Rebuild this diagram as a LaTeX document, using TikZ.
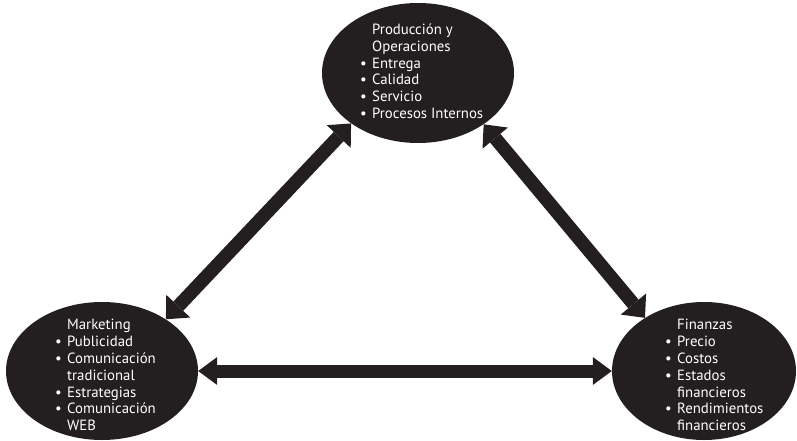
\documentclass[tikz,border=0pt]{standalone}
\usepackage{fontspec}
\setmainfont{PT Sans}
\usetikzlibrary{shapes.geometric,arrows.meta}
\definecolor{ink}{HTML}{231F20}
\tikzset{
  blob/.style={ellipse,fill=ink,draw=none,inner sep=0pt},
  txt/.style={text=white,inner sep=0pt,anchor=north west,font=\fontsize{14.8}{16.8}\selectfont},
  bigarrow/.style={draw=ink,line width=13pt,
    {Triangle[width=28pt,length=19pt,line width=0pt]}-{Triangle[width=28pt,length=19pt,line width=0pt]}},
  diagarrow/.style={draw=ink,line width=13.5pt,
    {Triangle[width=33pt,length=18pt,line width=0pt]}-{Triangle[width=33pt,length=18pt,line width=0pt]}}
}
\newcommand{\bl}{\makebox[12pt][l]{\textbullet}}
\begin{document}
\begin{tikzpicture}[x=1pt,y=-1pt]
\useasboundingbox (0,0) rectangle (797,441);
\node[blob,minimum width=192pt,minimum height=140pt] (pr) at (418,73) {};
\node[blob,minimum width=192pt,minimum height=138pt] (ml) at (102,371) {};
\node[blob,minimum width=184pt,minimum height=138pt] (fi) at (704,371) {};
\node[txt] (prt) at (360,22.5) {\begin{tabular}{@{}l@{}l@{}}
 & Producción y\\
 & Operaciones\\
\bl & Entrega\\
\bl & Calidad\\
\bl & Servicio\\
\bl & Procesos Internos
\end{tabular}};
\node[txt] (mlt) at (55,318) {\begin{tabular}{@{}l@{}l@{}}
 & Marketing\\
\bl & Publicidad\\
\bl & Comunicación\\
 & tradicional\\
\bl & Estrategias\\
\bl & Comunicación\\
 & WEB
\end{tabular}};
\node[txt] (fit) at (665,318) {\begin{tabular}{@{}l@{}l@{}}
 & Finanzas\\
\bl & Precio\\
\bl & Costos\\
\bl & Estados\\
 & financieros\\
\bl & Rendimientos\\
 & financieros
\end{tabular}};
\draw[bigarrow] (ml.east) -- (fi.west);
\draw[diagarrow] (ml.39) -- (pr.217);
\draw[diagarrow] (pr.322.6) -- (fi.138);
\end{tikzpicture}
\end{document}
